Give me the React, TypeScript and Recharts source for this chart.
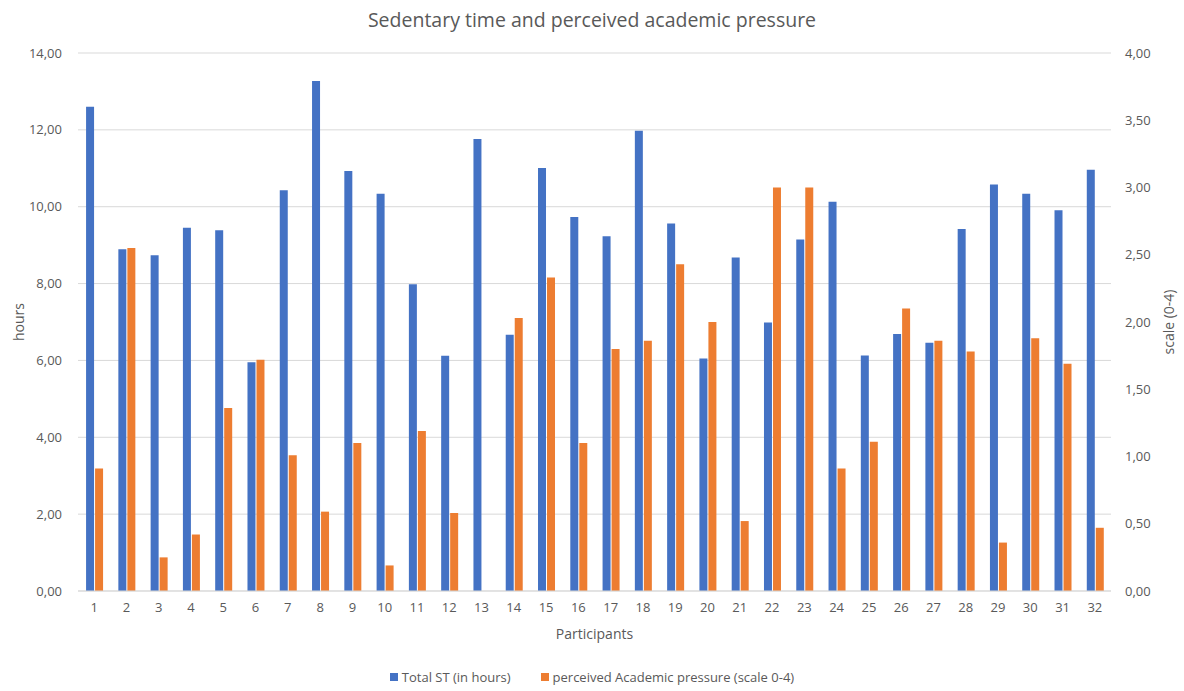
import { BarChart, Bar, XAxis, YAxis, CartesianGrid, Legend } from 'recharts';

const participants = Array.from({ length: 32 }, (_, i) => String(i + 1));

// Total sedentary time, hours
const totalST = [
  12.6, 8.89, 8.74, 9.45, 9.39, 5.95, 10.43, 13.27, 10.93, 10.34, 7.98, 6.12,
  11.76, 6.67, 11.01, 9.73, 9.23, 11.98, 9.56, 6.05, 8.68, 6.99, 9.15, 10.13,
  6.13, 6.69, 6.46, 9.42, 10.58, 10.34, 9.91, 10.96,
];

// perceived academic pressure, scale 0-4
const pressure = [
  0.91, 2.55, 0.25, 0.42, 1.36, 1.72, 1.01, 0.59, 1.1, 0.19, 1.19, 0.58,
  0, 2.03, 2.33, 1.1, 1.8, 1.86, 2.43, 2.0, 0.52, 3.0, 3.0, 0.91,
  1.11, 2.1, 1.86, 1.78, 0.36, 1.88, 1.69, 0.47,
];

const hoursTicks = [0, 2, 4, 6, 8, 10, 12, 14];
const scaleTicks = [0, 0.5, 1, 1.5, 2, 2.5, 3, 3.5, 4];

const data = participants.map((p, i) => ({
  name: p,
  st: totalST[i],
  pressure: pressure[i],
}));

const BLUE = '#4472C4';
const ORANGE = '#ED7D31';
const TEXT = '#595959';
const FONT = '"Open Sans", sans-serif';

const fmt = (v: number) => v.toFixed(2).replace('.', ',');

const renderLegend = (props: any) => {
  const { payload } = props;
  return (
    <div style={{ display: 'flex', justifyContent: 'center', gap: 30, fontFamily: FONT, fontSize: 13, color: TEXT }}>
      {payload.map((entry: any) => (
        <div key={entry.value} style={{ display: 'flex', alignItems: 'center' }}>
          <span style={{ display: 'inline-block', width: 8, height: 8, background: entry.color, marginRight: 4 }} />
          <span>{entry.value}</span>
        </div>
      ))}
    </div>
  );
};

export default function App() {
  return (
    <div style={{ position: 'absolute', left: 0, top: 0, width: 1184, height: 691, background: '#fff' }}>
      <div
        style={{
          position: 'absolute',
          top: 6,
          width: 1184,
          textAlign: 'center',
          fontFamily: FONT,
          fontSize: 19.5,
          color: TEXT,
        }}
      >
        Sedentary time and perceived academic pressure
      </div>
      <BarChart
        width={1184}
        height={691}
        data={data}
        margin={{ top: 53, right: 13, left: 8, bottom: 50 }}
        barCategoryGap="25%"
        barGap={1}
      >
        <CartesianGrid yAxisId="left" vertical={false} stroke="#d9d9d9" strokeWidth={1} />
        <XAxis
          dataKey="name"
          height={50}
          axisLine={{ stroke: '#d9d9d9' }}
          tickLine={false}
          tickSize={0}
          tickMargin={12}
          interval={0}
          tick={{ fill: TEXT, fontSize: 13, fontFamily: FONT }}
          label={{ value: 'Participants', position: 'insideBottom', offset: 2, fill: TEXT, fontSize: 14, fontFamily: FONT }}
        />
        <YAxis
          yAxisId="left"
          width={70}
          domain={[0, 14]}
          ticks={hoursTicks}
          tickFormatter={fmt}
          axisLine={false}
          tickLine={false}
          tickSize={0}
          tickMargin={16}
          tick={{ fill: TEXT, fontSize: 13, fontFamily: FONT }}
          label={{
            content: () => (
              <text
                x={18}
                y={322}
                transform="rotate(-90 18 322)"
                textAnchor="middle"
                dominantBaseline="central"
                fill={TEXT}
                fontSize={14}
                fontFamily={FONT}
              >
                hours
              </text>
            ),
          }}
        />
        <YAxis
          yAxisId="right"
          orientation="right"
          width={60}
          domain={[0, 4]}
          ticks={scaleTicks}
          tickFormatter={fmt}
          axisLine={false}
          tickLine={false}
          tickSize={0}
          tickMargin={14}
          tick={{ fill: TEXT, fontSize: 13, fontFamily: FONT }}
          label={{
            content: () => (
              <text
                x={1168}
                y={322}
                transform="rotate(-90 1168 322)"
                textAnchor="middle"
                dominantBaseline="central"
                fill={TEXT}
                fontSize={14}
                fontFamily={FONT}
              >
                scale (0-4)
              </text>
            ),
          }}
        />
        <Legend
          verticalAlign="middle"
          align="center"
          content={renderLegend}
          wrapperStyle={{ top: 668, left: 0, width: 1184 }}
        />
        <Bar yAxisId="left" dataKey="st" name="Total ST (in hours)" fill={BLUE} isAnimationActive={false} />
        <Bar
          yAxisId="right"
          dataKey="pressure"
          name="perceived Academic pressure (scale 0-4)"
          fill={ORANGE}
          isAnimationActive={false}
        />
      </BarChart>
    </div>
  );
}
